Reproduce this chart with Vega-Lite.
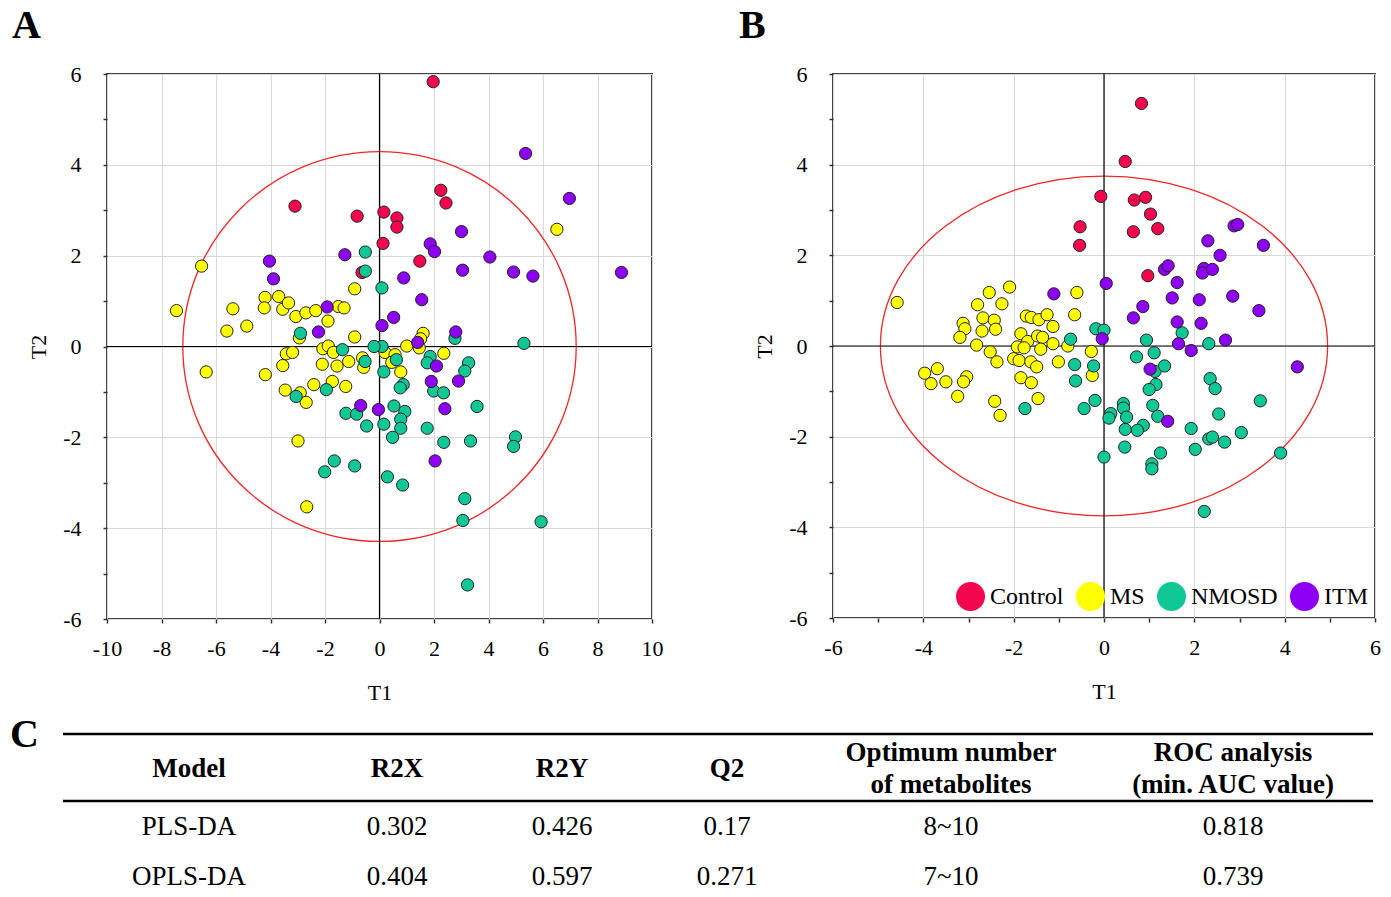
{
  "$schema": "https://vega.github.io/schema/vega-lite/v6.json",
  "background": "white",
  "padding": {"left": 10, "top": 5, "right": 5, "bottom": 0},
  "config": {
    "font": "Liberation Serif",
    "view": {"stroke": null},
    "axis": {
      "labelFont": "Liberation Serif", "labelFontSize": 22, "labelColor": "#000",
      "titleFont": "Liberation Serif", "titleFontSize": 22, "titleFontWeight": "normal", "titleColor": "#000",
      "tickColor": "#333", "tickSize": 4, "tickWidth": 1.5,
      "gridColor": "#d9d9d9", "gridWidth": 1, "domain": false, "labelFlush": false, "labelOverlap": false
    },
    "title": {"font": "Liberation Serif", "fontSize": 40, "fontWeight": "bold", "color": "#000", "anchor": "start", "frame": "group"}
  },
  "datasets": {
    "pls": [
      {"T1": 1.97, "T2": 5.83, "Group": "Control"}, {"T1": -3.1, "T2": 3.09, "Group": "Control"}, {"T1": -0.82, "T2": 2.87, "Group": "Control"}, {"T1": 0.16, "T2": 2.96, "Group": "Control"}, {"T1": 0.64, "T2": 2.83, "Group": "Control"}, {"T1": 0.64, "T2": 2.63, "Group": "Control"}, {"T1": 2.25, "T2": 3.44, "Group": "Control"}, {"T1": 2.44, "T2": 3.16, "Group": "Control"}, {"T1": 0.13, "T2": 2.27, "Group": "Control"}, {"T1": 1.48, "T2": 1.88, "Group": "Control"}, {"T1": -0.64, "T2": 1.63, "Group": "Control"},
      {"T1": 6.51, "T2": 2.58, "Group": "MS"}, {"T1": -6.53, "T2": 1.77, "Group": "MS"}, {"T1": -7.45, "T2": 0.79, "Group": "MS"}, {"T1": -5.38, "T2": 0.83, "Group": "MS"}, {"T1": -5.6, "T2": 0.34, "Group": "MS"}, {"T1": -4.87, "T2": 0.45, "Group": "MS"}, {"T1": -4.2, "T2": 1.08, "Group": "MS"}, {"T1": -3.7, "T2": 1.1, "Group": "MS"}, {"T1": -4.23, "T2": 0.85, "Group": "MS"}, {"T1": -3.55, "T2": 0.82, "Group": "MS"}, {"T1": -3.34, "T2": 0.96, "Group": "MS"}, {"T1": -3.07, "T2": 0.66, "Group": "MS"}, {"T1": -2.7, "T2": 0.74, "Group": "MS"}, {"T1": -2.34, "T2": 0.79, "Group": "MS"}, {"T1": -1.51, "T2": 0.88, "Group": "MS"}, {"T1": -1.3, "T2": 0.85, "Group": "MS"}, {"T1": -1.89, "T2": 0.56, "Group": "MS"}, {"T1": -0.91, "T2": 1.27, "Group": "MS"}, {"T1": -2.94, "T2": 0.19, "Group": "MS"}, {"T1": -0.91, "T2": 0.21, "Group": "MS"}, {"T1": 1.6, "T2": 0.29, "Group": "MS"}, {"T1": 1.51, "T2": 0.17, "Group": "MS"}, {"T1": 1.0, "T2": 0.01, "Group": "MS"}, {"T1": 1.46, "T2": -0.03, "Group": "MS"}, {"T1": 0.2, "T2": -0.13, "Group": "MS"}, {"T1": 0.57, "T2": -0.18, "Group": "MS"}, {"T1": 0.45, "T2": -0.35, "Group": "MS"}, {"T1": 0.78, "T2": -0.56, "Group": "MS"}, {"T1": 2.36, "T2": -0.15, "Group": "MS"}, {"T1": -6.36, "T2": -0.56, "Group": "MS"}, {"T1": -4.19, "T2": -0.62, "Group": "MS"}, {"T1": -3.55, "T2": -0.42, "Group": "MS"}, {"T1": -3.42, "T2": -0.16, "Group": "MS"}, {"T1": -3.19, "T2": -0.13, "Group": "MS"}, {"T1": -3.46, "T2": -0.96, "Group": "MS"}, {"T1": -2.91, "T2": -1.02, "Group": "MS"}, {"T1": -2.69, "T2": -1.23, "Group": "MS"}, {"T1": -2.41, "T2": -0.84, "Group": "MS"}, {"T1": -1.73, "T2": -0.77, "Group": "MS"}, {"T1": -1.24, "T2": -0.88, "Group": "MS"}, {"T1": -2.1, "T2": -0.39, "Group": "MS"}, {"T1": -1.56, "T2": -0.43, "Group": "MS"}, {"T1": -1.13, "T2": -0.33, "Group": "MS"}, {"T1": -2.08, "T2": -0.05, "Group": "MS"}, {"T1": -1.88, "T2": 0.01, "Group": "MS"}, {"T1": -1.69, "T2": -0.13, "Group": "MS"}, {"T1": -0.62, "T2": -0.25, "Group": "MS"}, {"T1": -0.58, "T2": -0.46, "Group": "MS"}, {"T1": -2.99, "T2": -2.08, "Group": "MS"}, {"T1": -2.67, "T2": -3.53, "Group": "MS"},
      {"T1": -0.52, "T2": 2.08, "Group": "NMOSD"}, {"T1": -0.52, "T2": 1.66, "Group": "NMOSD"}, {"T1": 0.09, "T2": 1.29, "Group": "NMOSD"}, {"T1": 2.77, "T2": 0.18, "Group": "NMOSD"}, {"T1": 5.3, "T2": 0.07, "Group": "NMOSD"}, {"T1": 0.09, "T2": 0.0, "Group": "NMOSD"}, {"T1": -0.2, "T2": 0.0, "Group": "NMOSD"}, {"T1": -2.9, "T2": 0.29, "Group": "NMOSD"}, {"T1": -3.06, "T2": -1.1, "Group": "NMOSD"}, {"T1": -1.95, "T2": -0.95, "Group": "NMOSD"}, {"T1": -1.36, "T2": -0.07, "Group": "NMOSD"}, {"T1": -0.53, "T2": -0.33, "Group": "NMOSD"}, {"T1": -1.23, "T2": -1.47, "Group": "NMOSD"}, {"T1": -0.84, "T2": -1.49, "Group": "NMOSD"}, {"T1": -0.47, "T2": -1.75, "Group": "NMOSD"}, {"T1": -1.66, "T2": -2.52, "Group": "NMOSD"}, {"T1": -2.01, "T2": -2.76, "Group": "NMOSD"}, {"T1": -0.91, "T2": -2.63, "Group": "NMOSD"}, {"T1": 0.62, "T2": -0.29, "Group": "NMOSD"}, {"T1": 0.16, "T2": -0.56, "Group": "NMOSD"}, {"T1": 1.86, "T2": -0.22, "Group": "NMOSD"}, {"T1": 1.75, "T2": -0.36, "Group": "NMOSD"}, {"T1": 3.27, "T2": -0.36, "Group": "NMOSD"}, {"T1": 3.13, "T2": -0.54, "Group": "NMOSD"}, {"T1": 1.99, "T2": -0.98, "Group": "NMOSD"}, {"T1": 2.35, "T2": -1.02, "Group": "NMOSD"}, {"T1": 0.87, "T2": -0.84, "Group": "NMOSD"}, {"T1": 0.76, "T2": -0.91, "Group": "NMOSD"}, {"T1": 0.53, "T2": -1.31, "Group": "NMOSD"}, {"T1": 0.93, "T2": -1.43, "Group": "NMOSD"}, {"T1": 0.78, "T2": -1.6, "Group": "NMOSD"}, {"T1": 0.78, "T2": -1.8, "Group": "NMOSD"}, {"T1": 0.16, "T2": -1.71, "Group": "NMOSD"}, {"T1": 0.48, "T2": -2.0, "Group": "NMOSD"}, {"T1": 3.58, "T2": -1.32, "Group": "NMOSD"}, {"T1": 1.75, "T2": -1.8, "Group": "NMOSD"}, {"T1": 2.36, "T2": -2.11, "Group": "NMOSD"}, {"T1": 3.34, "T2": -2.08, "Group": "NMOSD"}, {"T1": 4.99, "T2": -1.99, "Group": "NMOSD"}, {"T1": 4.92, "T2": -2.2, "Group": "NMOSD"}, {"T1": 0.29, "T2": -2.87, "Group": "NMOSD"}, {"T1": 0.85, "T2": -3.05, "Group": "NMOSD"}, {"T1": 3.13, "T2": -3.35, "Group": "NMOSD"}, {"T1": 3.06, "T2": -3.83, "Group": "NMOSD"}, {"T1": 5.93, "T2": -3.86, "Group": "NMOSD"}, {"T1": 3.23, "T2": -5.25, "Group": "NMOSD"},
      {"T1": 5.36, "T2": 4.25, "Group": "ITM"}, {"T1": 6.97, "T2": 3.26, "Group": "ITM"}, {"T1": 3.01, "T2": 2.53, "Group": "ITM"}, {"T1": 1.86, "T2": 2.26, "Group": "ITM"}, {"T1": 2.02, "T2": 2.09, "Group": "ITM"}, {"T1": 4.05, "T2": 1.97, "Group": "ITM"}, {"T1": 3.05, "T2": 1.68, "Group": "ITM"}, {"T1": 4.92, "T2": 1.64, "Group": "ITM"}, {"T1": 5.63, "T2": 1.55, "Group": "ITM"}, {"T1": 8.88, "T2": 1.63, "Group": "ITM"}, {"T1": 0.89, "T2": 1.51, "Group": "ITM"}, {"T1": 1.55, "T2": 1.03, "Group": "ITM"}, {"T1": 0.52, "T2": 0.64, "Group": "ITM"}, {"T1": 0.09, "T2": 0.46, "Group": "ITM"}, {"T1": 2.8, "T2": 0.32, "Group": "ITM"}, {"T1": 1.4, "T2": 0.09, "Group": "ITM"}, {"T1": -4.04, "T2": 1.88, "Group": "ITM"}, {"T1": -3.89, "T2": 1.49, "Group": "ITM"}, {"T1": -1.27, "T2": 2.02, "Group": "ITM"}, {"T1": -1.92, "T2": 0.87, "Group": "ITM"}, {"T1": -2.24, "T2": 0.32, "Group": "ITM"}, {"T1": 2.09, "T2": -0.43, "Group": "ITM"}, {"T1": 2.9, "T2": -0.76, "Group": "ITM"}, {"T1": 1.9, "T2": -0.77, "Group": "ITM"}, {"T1": -0.69, "T2": -1.3, "Group": "ITM"}, {"T1": -0.04, "T2": -1.39, "Group": "ITM"}, {"T1": 2.4, "T2": -1.37, "Group": "ITM"}, {"T1": 2.04, "T2": -2.52, "Group": "ITM"}
    ],
    "opls": [
      {"T1": -0.07, "T2": 3.3, "Group": "Control"}, {"T1": -0.53, "T2": 2.63, "Group": "Control"}, {"T1": -0.54, "T2": 2.22, "Group": "Control"}, {"T1": 0.83, "T2": 5.35, "Group": "Control"}, {"T1": 0.47, "T2": 4.07, "Group": "Control"}, {"T1": 0.67, "T2": 3.22, "Group": "Control"}, {"T1": 0.92, "T2": 3.28, "Group": "Control"}, {"T1": 1.03, "T2": 2.91, "Group": "Control"}, {"T1": 0.65, "T2": 2.52, "Group": "Control"}, {"T1": 1.19, "T2": 2.59, "Group": "Control"}, {"T1": 0.97, "T2": 1.55, "Group": "Control"},
      {"T1": -0.6, "T2": 1.18, "Group": "MS"}, {"T1": -4.58, "T2": 0.96, "Group": "MS"}, {"T1": -2.09, "T2": 1.3, "Group": "MS"}, {"T1": -2.54, "T2": 1.18, "Group": "MS"}, {"T1": -2.8, "T2": 0.91, "Group": "MS"}, {"T1": -2.26, "T2": 0.93, "Group": "MS"}, {"T1": -2.68, "T2": 0.62, "Group": "MS"}, {"T1": -2.43, "T2": 0.57, "Group": "MS"}, {"T1": -3.12, "T2": 0.5, "Group": "MS"}, {"T1": -3.08, "T2": 0.38, "Group": "MS"}, {"T1": -3.19, "T2": 0.19, "Group": "MS"}, {"T1": -2.7, "T2": 0.33, "Group": "MS"}, {"T1": -2.4, "T2": 0.37, "Group": "MS"}, {"T1": -1.72, "T2": 0.66, "Group": "MS"}, {"T1": -1.61, "T2": 0.63, "Group": "MS"}, {"T1": -1.44, "T2": 0.58, "Group": "MS"}, {"T1": -1.26, "T2": 0.69, "Group": "MS"}, {"T1": -0.65, "T2": 0.69, "Group": "MS"}, {"T1": -1.13, "T2": 0.43, "Group": "MS"}, {"T1": -1.84, "T2": 0.27, "Group": "MS"}, {"T1": -1.69, "T2": 0.1, "Group": "MS"}, {"T1": -1.47, "T2": 0.22, "Group": "MS"}, {"T1": -1.36, "T2": 0.19, "Group": "MS"}, {"T1": -1.13, "T2": 0.05, "Group": "MS"}, {"T1": -0.8, "T2": 0.0, "Group": "MS"}, {"T1": -2.82, "T2": 0.02, "Group": "MS"}, {"T1": -1.92, "T2": -0.02, "Group": "MS"}, {"T1": -1.77, "T2": -0.04, "Group": "MS"}, {"T1": -1.4, "T2": -0.07, "Group": "MS"}, {"T1": -2.52, "T2": -0.13, "Group": "MS"}, {"T1": -0.28, "T2": -0.12, "Group": "MS"}, {"T1": -2.37, "T2": -0.35, "Group": "MS"}, {"T1": -2.0, "T2": -0.28, "Group": "MS"}, {"T1": -1.88, "T2": -0.32, "Group": "MS"}, {"T1": -1.62, "T2": -0.35, "Group": "MS"}, {"T1": -1.49, "T2": -0.46, "Group": "MS"}, {"T1": -1.01, "T2": -0.35, "Group": "MS"}, {"T1": -0.26, "T2": -0.65, "Group": "MS"}, {"T1": -3.97, "T2": -0.6, "Group": "MS"}, {"T1": -3.69, "T2": -0.5, "Group": "MS"}, {"T1": -3.83, "T2": -0.83, "Group": "MS"}, {"T1": -3.5, "T2": -0.79, "Group": "MS"}, {"T1": -3.04, "T2": -0.68, "Group": "MS"}, {"T1": -3.11, "T2": -0.79, "Group": "MS"}, {"T1": -3.24, "T2": -1.11, "Group": "MS"}, {"T1": -2.42, "T2": -1.22, "Group": "MS"}, {"T1": -2.3, "T2": -1.53, "Group": "MS"}, {"T1": -1.84, "T2": -0.7, "Group": "MS"}, {"T1": -1.61, "T2": -0.81, "Group": "MS"}, {"T1": -1.46, "T2": -1.16, "Group": "MS"},
      {"T1": -0.18, "T2": 0.38, "Group": "NMOSD"}, {"T1": 0.0, "T2": 0.35, "Group": "NMOSD"}, {"T1": -0.74, "T2": 0.15, "Group": "NMOSD"}, {"T1": -0.65, "T2": -0.41, "Group": "NMOSD"}, {"T1": -0.23, "T2": -0.44, "Group": "NMOSD"}, {"T1": -0.63, "T2": -0.77, "Group": "NMOSD"}, {"T1": -1.75, "T2": -1.38, "Group": "NMOSD"}, {"T1": -0.44, "T2": -1.38, "Group": "NMOSD"}, {"T1": -0.2, "T2": -1.2, "Group": "NMOSD"}, {"T1": 0.0, "T2": -2.45, "Group": "NMOSD"}, {"T1": 0.94, "T2": 0.13, "Group": "NMOSD"}, {"T1": 1.11, "T2": -0.15, "Group": "NMOSD"}, {"T1": 0.72, "T2": -0.24, "Group": "NMOSD"}, {"T1": 1.13, "T2": -0.56, "Group": "NMOSD"}, {"T1": 1.34, "T2": -0.44, "Group": "NMOSD"}, {"T1": 1.15, "T2": -0.85, "Group": "NMOSD"}, {"T1": 1.0, "T2": -0.96, "Group": "NMOSD"}, {"T1": 0.43, "T2": -1.27, "Group": "NMOSD"}, {"T1": 0.43, "T2": -1.37, "Group": "NMOSD"}, {"T1": 0.15, "T2": -1.49, "Group": "NMOSD"}, {"T1": 0.11, "T2": -1.59, "Group": "NMOSD"}, {"T1": 0.5, "T2": -1.57, "Group": "NMOSD"}, {"T1": 1.08, "T2": -1.31, "Group": "NMOSD"}, {"T1": 1.19, "T2": -1.55, "Group": "NMOSD"}, {"T1": 0.87, "T2": -1.75, "Group": "NMOSD"}, {"T1": 0.74, "T2": -1.86, "Group": "NMOSD"}, {"T1": 0.47, "T2": -1.84, "Group": "NMOSD"}, {"T1": 0.46, "T2": -2.23, "Group": "NMOSD"}, {"T1": 1.06, "T2": -2.6, "Group": "NMOSD"}, {"T1": 1.06, "T2": -2.71, "Group": "NMOSD"}, {"T1": 1.25, "T2": -2.36, "Group": "NMOSD"}, {"T1": 2.32, "T2": 0.05, "Group": "NMOSD"}, {"T1": 2.35, "T2": -0.72, "Group": "NMOSD"}, {"T1": 2.46, "T2": -0.94, "Group": "NMOSD"}, {"T1": 3.46, "T2": -1.21, "Group": "NMOSD"}, {"T1": 2.54, "T2": -1.5, "Group": "NMOSD"}, {"T1": 1.93, "T2": -1.82, "Group": "NMOSD"}, {"T1": 2.32, "T2": -2.05, "Group": "NMOSD"}, {"T1": 2.4, "T2": -2.01, "Group": "NMOSD"}, {"T1": 2.67, "T2": -2.12, "Group": "NMOSD"}, {"T1": 3.04, "T2": -1.91, "Group": "NMOSD"}, {"T1": 2.02, "T2": -2.28, "Group": "NMOSD"}, {"T1": 3.91, "T2": -2.36, "Group": "NMOSD"}, {"T1": 2.22, "T2": -3.65, "Group": "NMOSD"}, {"T1": 1.73, "T2": 0.29, "Group": "NMOSD"},
      {"T1": 0.05, "T2": 1.38, "Group": "ITM"}, {"T1": -1.11, "T2": 1.15, "Group": "ITM"}, {"T1": -0.04, "T2": 0.16, "Group": "ITM"}, {"T1": 1.02, "T2": -0.51, "Group": "ITM"}, {"T1": 1.41, "T2": -1.66, "Group": "ITM"}, {"T1": 1.65, "T2": 0.05, "Group": "ITM"}, {"T1": 1.93, "T2": -0.1, "Group": "ITM"}, {"T1": 2.69, "T2": 0.13, "Group": "ITM"}, {"T1": 4.28, "T2": -0.46, "Group": "ITM"}, {"T1": 2.88, "T2": 2.65, "Group": "ITM"}, {"T1": 2.96, "T2": 2.68, "Group": "ITM"}, {"T1": 2.3, "T2": 2.32, "Group": "ITM"}, {"T1": 3.53, "T2": 2.22, "Group": "ITM"}, {"T1": 2.57, "T2": 2.0, "Group": "ITM"}, {"T1": 1.34, "T2": 1.69, "Group": "ITM"}, {"T1": 1.42, "T2": 1.77, "Group": "ITM"}, {"T1": 2.21, "T2": 1.71, "Group": "ITM"}, {"T1": 2.18, "T2": 1.61, "Group": "ITM"}, {"T1": 2.4, "T2": 1.69, "Group": "ITM"}, {"T1": 1.62, "T2": 1.4, "Group": "ITM"}, {"T1": 1.51, "T2": 1.06, "Group": "ITM"}, {"T1": 2.11, "T2": 1.02, "Group": "ITM"}, {"T1": 2.85, "T2": 1.1, "Group": "ITM"}, {"T1": 3.43, "T2": 0.78, "Group": "ITM"}, {"T1": 0.86, "T2": 0.87, "Group": "ITM"}, {"T1": 0.65, "T2": 0.62, "Group": "ITM"}, {"T1": 1.62, "T2": 0.53, "Group": "ITM"}, {"T1": 2.15, "T2": 0.5, "Group": "ITM"}
    ],
    "table": [
      {"row": 1, "col": 1, "text": "Model"}, {"row": 1, "col": 2, "text": "R2X"}, {"row": 1, "col": 3, "text": "R2Y"}, {"row": 1, "col": 4, "text": "Q2"}, {"row": 1, "col": 5, "text": "Optimum number\nof metabolites"}, {"row": 1, "col": 6, "text": "ROC analysis\n(min. AUC value)"},
      {"row": 3, "col": 1, "text": "PLS-DA"}, {"row": 3, "col": 2, "text": "0.302"}, {"row": 3, "col": 3, "text": "0.426"}, {"row": 3, "col": 4, "text": "0.17"}, {"row": 3, "col": 5, "text": "8~10"}, {"row": 3, "col": 6, "text": "0.818"},
      {"row": 4, "col": 1, "text": "OPLS-DA"}, {"row": 4, "col": 2, "text": "0.404"}, {"row": 4, "col": 3, "text": "0.597"}, {"row": 4, "col": 4, "text": "0.271"}, {"row": 4, "col": 5, "text": "7~10"}, {"row": 4, "col": 6, "text": "0.739"}
    ],
    "rules": [{"row": 0}, {"row": 2}]
  },
  "concat": [
    {
      "hconcat": [
        {
          "width": 545, "height": 545,
          "title": {"text": "A", "dx": -95, "offset": 17},
          "view": {"stroke": "#444", "strokeWidth": 2},
          "layer": [
            {
              "data": {"values": [{}]},
              "mark": {"type": "point", "shape": "M 1 0 C 1 0.5473 0.5523 0.991 0 0.991 C -0.5523 0.991 -1 0.5473 -1 0 C -1 -0.5473 -0.5523 -0.991 0 -0.991 C 0.5523 -0.991 1 -0.5473 1 0 Z", "size": 154764, "filled": false, "stroke": "#f02828", "strokeWidth": 1.3, "opacity": 1},
              "encoding": {"x": {"datum": 0, "type": "quantitative"}, "y": {"datum": 0, "type": "quantitative"}}
            },
            {
              "data": {"values": [{}]},
              "mark": {"type": "rule", "color": "#000", "strokeWidth": 1.2},
              "encoding": {"x": {"datum": 0, "type": "quantitative"}}
            },
            {
              "data": {"values": [{}]},
              "mark": {"type": "rule", "color": "#000", "strokeWidth": 1.2},
              "encoding": {"y": {"datum": 0, "type": "quantitative"}}
            },
            {
              "data": {"name": "pls"},
              "mark": {"type": "circle", "size": 150, "opacity": 1, "stroke": "#222", "strokeWidth": 1},
              "encoding": {
                "x": {"field": "T1", "type": "quantitative", "scale": {"domain": [-10, 10], "nice": false, "zero": false},
                  "axis": {"title": "T1", "values": [-10, -9, -8, -7, -6, -5, -4, -3, -2, -1, 0, 1, 2, 3, 4, 5, 6, 7, 8, 9, 10], "labelExpr": "datum.value % 2 === 0 ? '' + datum.value : ''", "grid": true, "gridOpacity": {"condition": {"test": "datum.value % 2 !== 0", "value": 0}, "value": 1}, "labelPadding": 15, "titlePadding": 23}},
                "y": {"field": "T2", "type": "quantitative", "scale": {"domain": [-6, 6], "nice": false, "zero": false},
                  "axis": {"title": "T2", "values": [-6, -5, -4, -3, -2, -1, 0, 1, 2, 3, 4, 5, 6], "labelExpr": "datum.value % 2 === 0 ? '' + datum.value : ''", "grid": true, "gridOpacity": {"condition": {"test": "datum.value % 2 !== 0", "value": 0}, "value": 1}, "labelPadding": 22, "titlePadding": 12}},
                "color": {"field": "Group", "type": "nominal", "scale": {"domain": ["Control", "MS", "NMOSD", "ITM"], "range": ["#F2074E", "#FFFF00", "#10C896", "#8E00F5"]}, "legend": null}
              }
            }
          ]
        },
        {
          "width": 542, "height": 544,
          "title": {"text": "B", "dx": -94, "offset": 17},
          "view": {"stroke": "#444", "strokeWidth": 2},
          "layer": [
            {
              "data": {"values": [{}]},
              "mark": {"type": "point", "shape": "M 1 0 C 1 0.4197 0.5523 0.76 0 0.76 C -0.5523 0.76 -1 0.4197 -1 0 C -1 -0.4197 -0.5523 -0.76 0 -0.76 C 0.5523 -0.76 1 -0.4197 1 0 Z", "size": 199988, "filled": false, "stroke": "#f02828", "strokeWidth": 1.3, "opacity": 1},
              "encoding": {"x": {"datum": 0, "type": "quantitative"}, "y": {"datum": 0, "type": "quantitative"}}
            },
            {
              "data": {"values": [{}]},
              "mark": {"type": "rule", "color": "#000", "strokeWidth": 1.2},
              "encoding": {"x": {"datum": 0, "type": "quantitative"}}
            },
            {
              "data": {"values": [{}]},
              "mark": {"type": "rule", "color": "#000", "strokeWidth": 1.2},
              "encoding": {"y": {"datum": 0, "type": "quantitative"}}
            },
            {
              "data": {"name": "opls"},
              "mark": {"type": "circle", "size": 150, "opacity": 1, "stroke": "#222", "strokeWidth": 1},
              "encoding": {
                "x": {"field": "T1", "type": "quantitative", "scale": {"domain": [-6, 6], "nice": false, "zero": false},
                  "axis": {"title": "T1", "values": [-6, -5, -4, -3, -2, -1, 0, 1, 2, 3, 4, 5, 6], "labelExpr": "datum.value % 2 === 0 ? '' + datum.value : ''", "grid": true, "gridOpacity": {"condition": {"test": "datum.value % 2 !== 0", "value": 0}, "value": 1}, "labelPadding": 15, "titlePadding": 23}},
                "y": {"field": "T2", "type": "quantitative", "scale": {"domain": [-6, 6], "nice": false, "zero": false},
                  "axis": {"title": "T2", "values": [-6, -5, -4, -3, -2, -1, 0, 1, 2, 3, 4, 5, 6], "labelExpr": "datum.value % 2 === 0 ? '' + datum.value : ''", "grid": true, "gridOpacity": {"condition": {"test": "datum.value % 2 !== 0", "value": 0}, "value": 1}, "labelPadding": 22, "titlePadding": 12}},
                "color": {"field": "Group", "type": "nominal", "scale": {"domain": ["Control", "MS", "NMOSD", "ITM"], "range": ["#F2074E", "#FFFF00", "#10C896", "#8E00F5"]},
                  "legend": {"orient": "bottom-right", "direction": "horizontal", "title": null, "symbolType": "circle", "symbolSize": 841, "symbolStrokeWidth": 0, "symbolOpacity": 1, "labelFont": "Liberation Serif", "labelFontSize": 24, "labelColor": "#000", "labelOffset": 5, "columnPadding": 12, "offset": 7, "padding": 0}}
              }
            }
          ]
        }
      ],
      "spacing": 74,
      "resolve": {"scale": {"color": "independent"}, "legend": {"color": "independent"}}
    },
    {
      "width": 1266, "height": 170,
      "title": {"text": "C", "dx": -97, "offset": 0, "dy": 49, "baseline": "middle"},
      "resolve": {"scale": {"x": "independent"}},
      "layer": [
        {
          "data": {"name": "rules"},
          "mark": {"type": "rule", "color": "#000", "strokeWidth": 2.6},
          "encoding": {
            "x": {"datum": 0, "type": "quantitative", "scale": {"domain": [0, 1], "range": [-44, 1266], "nice": false, "zero": false}, "axis": null},
            "x2": {"datum": 1},
            "y": {"field": "row", "type": "quantitative", "scale": {"domain": [0, 1, 2, 3, 4], "range": [8, 43, 75, 101, 151], "nice": false, "zero": false}, "axis": null}
          }
        },
        {
          "data": {"name": "table"},
          "transform": [{"filter": "datum.row === 1 && datum.col < 5"}],
          "mark": {"type": "text", "fontWeight": "bold", "fontSize": 27, "font": "Liberation Serif", "baseline": "middle", "align": "center", "color": "#000"},
          "encoding": {
            "x": {"field": "col", "type": "quantitative", "scale": {"domain": [1, 2, 3, 4, 5, 6], "range": [82, 290, 455, 620, 844, 1126], "nice": false, "zero": false}, "axis": null},
            "y": {"field": "row", "type": "quantitative", "scale": {"domain": [0, 1, 2, 3, 4], "range": [8, 43, 75, 101, 151], "nice": false, "zero": false}, "axis": null},
            "text": {"field": "text", "type": "nominal"}
          }
        },
        {
          "data": {"name": "table"},
          "transform": [{"filter": "datum.row === 1 && datum.col >= 5"}],
          "mark": {"type": "text", "fontWeight": "bold", "fontSize": 27, "font": "Liberation Serif", "lineBreak": "\n", "lineHeight": 32, "dy": -16, "baseline": "middle", "align": "center", "color": "#000"},
          "encoding": {
            "x": {"field": "col", "type": "quantitative", "scale": {"domain": [1, 2, 3, 4, 5, 6], "range": [82, 290, 455, 620, 844, 1126], "nice": false, "zero": false}, "axis": null},
            "y": {"field": "row", "type": "quantitative", "scale": {"domain": [0, 1, 2, 3, 4], "range": [8, 43, 75, 101, 151], "nice": false, "zero": false}, "axis": null},
            "text": {"field": "text", "type": "nominal"}
          }
        },
        {
          "data": {"name": "table"},
          "transform": [{"filter": "datum.row > 1"}],
          "mark": {"type": "text", "fontWeight": "normal", "fontSize": 27, "font": "Liberation Serif", "baseline": "middle", "align": "center", "color": "#000"},
          "encoding": {
            "x": {"field": "col", "type": "quantitative", "scale": {"domain": [1, 2, 3, 4, 5, 6], "range": [82, 290, 455, 620, 844, 1126], "nice": false, "zero": false}, "axis": null},
            "y": {"field": "row", "type": "quantitative", "scale": {"domain": [0, 1, 2, 3, 4], "range": [8, 43, 75, 101, 151], "nice": false, "zero": false}, "axis": null},
            "text": {"field": "text", "type": "nominal"}
          }
        }
      ]
    }
  ],
  "columns": 1,
  "spacing": 11,
  "align": "none"
}
